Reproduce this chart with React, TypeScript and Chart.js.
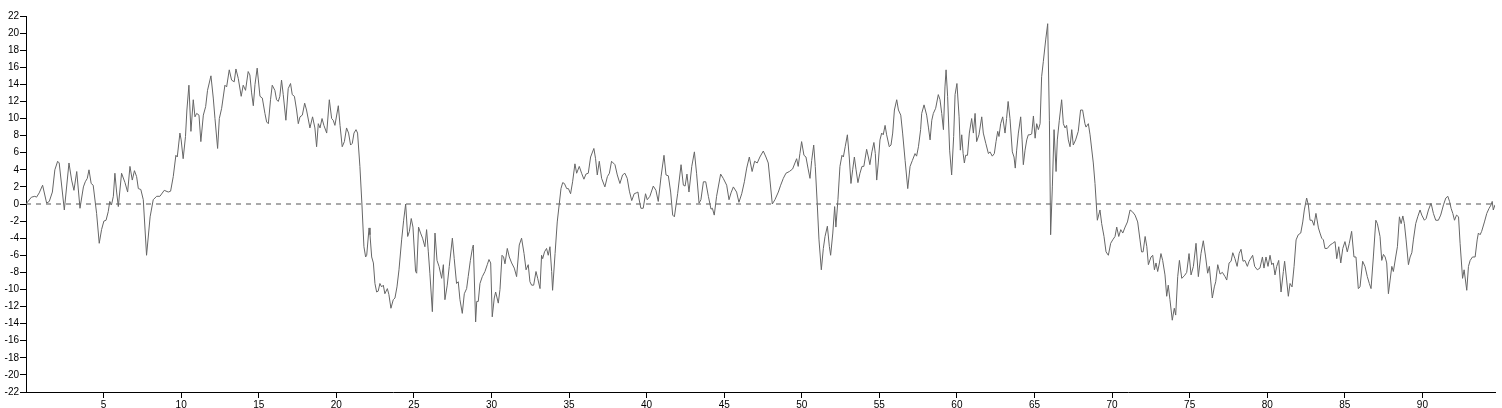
import React, { useEffect, useRef } from "react";
import { Chart, registerables } from "chart.js";

Chart.register(...registerables);

const times = [
  0, 0.35, 0.57, 0.68, 0.85, 1.07, 1.33, 1.5, 1.7, 1.86,
  2.04, 2.14, 2.47, 2.77, 2.94, 3.09, 3.27, 3.48, 3.7, 3.82,
  3.95, 4.06, 4.2, 4.33, 4.55, 4.72, 4.87, 5.02, 5.16, 5.3,
  5.4, 5.51, 5.63, 5.73, 5.84, 5.95, 6.16, 6.38, 6.55, 6.7,
  6.85, 6.99, 7.13, 7.24, 7.4, 7.56, 7.77, 8.0, 8.2, 8.42,
  8.63, 8.91, 9.17, 9.32, 9.49, 9.66, 9.75, 9.92, 10.0, 10.13,
  10.28, 10.37, 10.5, 10.63, 10.78, 10.89, 11.0, 11.15, 11.27, 11.43,
  11.58, 11.7, 11.92, 12.07, 12.18, 12.35, 12.46, 12.61, 12.82, 12.93,
  13.1, 13.25, 13.42, 13.53, 13.68, 13.87, 14.0, 14.15, 14.32, 14.43,
  14.54, 14.65, 14.76, 14.9, 15.08, 15.23, 15.4, 15.51, 15.62, 15.76,
  15.87, 16.04, 16.15, 16.26, 16.36, 16.47, 16.58, 16.75, 16.9, 17.05,
  17.16, 17.3, 17.44, 17.55, 17.66, 17.81, 17.96, 18.08, 18.3, 18.47,
  18.62, 18.73, 18.84, 18.95, 19.08, 19.2, 19.38, 19.55, 19.7, 19.8,
  19.91, 20.13, 20.24, 20.38, 20.52, 20.66, 20.79, 20.92, 21.03, 21.14,
  21.27, 21.37, 21.52, 21.65, 21.78, 21.89, 21.96, 22.11, 22.17, 22.28,
  22.39, 22.49, 22.6, 22.7, 22.81, 22.92, 23.03, 23.13, 23.29, 23.39,
  23.52, 23.67, 23.78, 23.91, 24.04, 24.21, 24.34, 24.47, 24.6, 24.71,
  24.83, 24.94, 25.11, 25.18, 25.3, 25.43, 25.56, 25.71, 25.82, 25.93,
  26.03, 26.19, 26.36, 26.49, 26.62, 26.79, 26.9, 27.0, 27.15, 27.28,
  27.48, 27.6, 27.75, 27.86, 27.97, 28.12, 28.25, 28.4, 28.5, 28.64,
  28.77, 28.83, 28.98, 29.05, 29.15, 29.26, 29.41, 29.58, 29.73, 29.84,
  29.95, 30.05, 30.18, 30.27, 30.44, 30.55, 30.68, 30.78, 30.87, 31.02,
  31.15, 31.3, 31.47, 31.62, 31.79, 31.94, 32.1, 32.23, 32.37, 32.48,
  32.59, 32.72, 32.87, 32.98, 33.13, 33.23, 33.3, 33.42, 33.55, 33.66,
  33.77, 33.88, 33.94, 34.1, 34.24, 34.37, 34.48, 34.59, 34.7, 34.85,
  34.96, 35.1, 35.23, 35.38, 35.49, 35.66, 35.81, 35.96, 36.09, 36.24,
  36.39, 36.6, 36.71, 36.82, 36.95, 37.1, 37.31, 37.47, 37.6, 37.74,
  37.96, 38.11, 38.28, 38.45, 38.6, 38.75, 38.89, 39.04, 39.2, 39.33,
  39.44, 39.5, 39.63, 39.78, 39.93, 40.04, 40.21, 40.43, 40.6, 40.75,
  40.93, 41.12, 41.25, 41.4, 41.55, 41.68, 41.79, 42.0, 42.22, 42.37,
  42.48, 42.6, 42.73, 42.91, 43.08, 43.22, 43.38, 43.5, 43.66, 43.81,
  43.98, 44.15, 44.24, 44.36, 44.51, 44.77, 44.94, 45.16, 45.31, 45.44,
  45.59, 45.8, 45.95, 46.13, 46.3, 46.45, 46.62, 46.8, 46.96, 47.13,
  47.3, 47.52, 47.69, 47.84, 47.95, 48.1, 48.27, 48.49, 48.64, 48.81,
  48.98, 49.2, 49.41, 49.56, 49.67, 49.77, 49.88, 49.99, 50.14, 50.27,
  50.4, 50.53, 50.64, 50.77, 50.87, 51.0, 51.11, 51.26, 51.39, 51.5,
  51.65, 51.78, 51.86, 52.0, 52.12, 52.2, 52.33, 52.46, 52.59, 52.68,
  52.8, 52.94, 53.06, 53.17, 53.28, 53.39, 53.5, 53.62, 53.75, 53.88,
  54.0, 54.18, 54.29, 54.39, 54.52, 54.65, 54.74, 54.83, 54.93, 55.04,
  55.15, 55.25, 55.37, 55.47, 55.64, 55.75, 55.86, 55.97, 56.12, 56.23,
  56.38, 56.5, 56.66, 56.83, 56.98, 57.13, 57.3, 57.4, 57.52, 57.66,
  57.73, 57.88, 58.05, 58.16, 58.27, 58.38, 58.48, 58.63, 58.8, 58.91,
  59.02, 59.13, 59.23, 59.3, 59.4, 59.53, 59.66, 59.79, 59.88, 60.0,
  60.14, 60.22, 60.31, 60.4, 60.48, 60.56, 60.68, 60.8, 60.95, 61.06,
  61.17, 61.27, 61.42, 61.6, 61.7, 61.86, 62.03, 62.13, 62.28, 62.41,
  62.52, 62.63, 62.71, 62.82, 62.95, 63.1, 63.2, 63.3, 63.42, 63.57,
  63.68, 63.76, 63.85, 63.96, 64.11, 64.2, 64.28, 64.39, 64.5, 64.6,
  64.71, 64.82, 64.93, 65.04, 65.14, 65.25, 65.36, 65.46, 65.57, 65.72,
  65.85, 65.96, 66.04, 66.15, 66.26, 66.39, 66.47, 66.6, 66.75, 66.86,
  66.97, 67.07, 67.18, 67.29, 67.4, 67.5, 67.65, 67.82, 67.97, 68.1,
  68.25, 68.32, 68.47, 68.58, 68.79, 68.9, 69.05, 69.22, 69.33, 69.48,
  69.61, 69.76, 69.91, 70.04, 70.19, 70.3, 70.43, 70.56, 70.69, 70.84,
  70.99, 71.16, 71.31, 71.48, 71.65, 71.8, 71.9, 72.0, 72.13, 72.24,
  72.34, 72.51, 72.62, 72.73, 72.83, 72.94, 73.05, 73.15, 73.26, 73.41,
  73.52, 73.62, 73.73, 73.88, 74.01, 74.1, 74.23, 74.34, 74.49, 74.66,
  74.81, 74.96, 75.09, 75.24, 75.41, 75.56, 75.73, 75.88, 76.03, 76.16,
  76.27, 76.46, 76.59, 76.68, 76.81, 76.96, 77.11, 77.28, 77.39, 77.54,
  77.67, 77.78, 77.92, 78.06, 78.19, 78.31, 78.44, 78.56, 78.72, 78.83,
  79.06, 79.19, 79.36, 79.53, 79.69, 79.79, 79.92, 80.05, 80.18, 80.29,
  80.39, 80.5, 80.61, 80.74, 80.89, 81.04, 81.12, 81.25, 81.36, 81.47,
  81.6, 81.73, 81.86, 82.0, 82.16, 82.29, 82.39, 82.54, 82.65, 82.76,
  82.89, 83.01, 83.14, 83.3, 83.4, 83.51, 83.62, 83.72, 83.87, 84.05,
  84.22, 84.37, 84.48, 84.61, 84.74, 84.87, 85.01, 85.16, 85.29, 85.44,
  85.59, 85.72, 85.87, 85.98, 86.15, 86.3, 86.45, 86.58, 86.69, 86.84,
  87.0, 87.1, 87.27, 87.38, 87.49, 87.6, 87.7, 87.81, 87.92, 88.03,
  88.13, 88.28, 88.39, 88.52, 88.63, 88.74, 88.84, 88.95, 89.1, 89.21,
  89.32, 89.42, 89.57, 89.7, 89.85, 89.96, 90.13, 90.24, 90.39, 90.56,
  90.71, 90.86, 91.03, 91.18, 91.36, 91.51, 91.64, 91.75, 91.85, 91.96,
  92.07, 92.2, 92.33, 92.43, 92.59, 92.69, 92.86, 92.97, 93.08, 93.23,
  93.4, 93.53, 93.61, 93.72, 93.82, 94.0, 94.15, 94.3, 94.43, 94.5,
  94.57, 94.68,
];

const values = [
  0, 0.8, 0.9, 0.8, 1.3, 2.2, 0.1, 0.3, 1.4, 4,
  5, 4.8, -0.7, 4.8, 2.8, 1.6, 3.8, -0.5, 2, 2.6,
  3, 4, 2.4, 2.2, -1.1, -4.6, -3, -2, -1.9, -0.9,
  0.3, -0.1, 0.9, 3.6, 1.4, -0.3, 3.6, 2.5, 1.4, 4.4,
  2.8, 3.9, 3.2, 1.8, 1.7, 0.5, -6, -1.5, 0.5, 0.9,
  0.9, 1.6, 1.4, 1.5, 3.2, 5.7, 5.5, 8.3, 7.5, 5.3,
  7.9, 11, 13.9, 8.5, 12.2, 10.2, 10.6, 10.4, 7.3, 10.4,
  11.4, 13.3, 15, 12.4, 10, 6.5, 10, 11.2, 13.9, 13.7,
  15.7, 14.5, 14.3, 15.8, 14.7, 12.6, 13.9, 13.3, 15.5, 15.1,
  13, 11.5, 14, 15.9, 12.6, 12.4, 10.6, 9.6, 9.4, 12.2,
  13.9, 13.3, 12.2, 12, 12.6, 14.5, 12.8, 9.8, 13.5, 14.1,
  12.8, 12.6, 11, 9.4, 10.2, 10.4, 11.8, 11, 8.9, 10.2,
  8.9, 6.7, 9.4, 8.9, 10, 9.2, 8.3, 12.2, 10, 9.8,
  9.2, 11.5, 9.2, 6.7, 7.3, 8.9, 8.3, 6.9, 7.1, 8.3,
  8.7, 8.3, 4.4, 0, -5, -6.2, -6, -2.8, -3.6, -6.2,
  -6.9, -9.3, -10.3, -10.2, -9.3, -9.7, -9.5, -10.5, -9.9, -10.6,
  -12.2, -11.2, -11, -9.7, -7.7, -4.2, -1.9, 0, -3.8, -3.2,
  -1.7, -2.7, -7.9, -8.1, -2.7, -3.4, -4, -5, -3, -5.6,
  -8.1, -12.6, -3.4, -6.6, -7.3, -8.7, -7.1, -11.2, -9.5, -7.3,
  -4, -6.4, -9.3, -9.1, -11.2, -12.8, -10.5, -9.9, -8.5, -6.6,
  -5.2, -4.8, -13.8, -11.4, -11.4, -9.3, -8.5, -7.9, -7.1, -6.5,
  -6.9, -13.2, -11, -10.3, -11.6, -10, -6, -6.2, -7, -5.2,
  -6.2, -6.9, -7.5, -8.5, -4.8, -4, -5.8, -7.7, -7.1, -9.1,
  -9.5, -9.5, -7.9, -8.7, -9.9, -6, -6.4, -5.6, -5.2, -6,
  -5, -7.9, -10.1, -5.8, -2.1, 0, 1.8, 2.5, 2.4, 1.8,
  1.8, 1.2, 2.6, 4.7, 3.6, 4.4, 3.6, 2.9, 3.5, 3.6,
  5.5, 6.5, 5.3, 3.4, 5, 3, 2, 3.2, 3.6, 5,
  4.6, 3.4, 2.4, 3.4, 3.6, 3, 1.5, 0.4, 1.2, 1.3,
  1.4, 0.7, -0.5, -0.5, 1.2, 0.5, 0.9, 2.1, 1.6, 0.3,
  3.2, 5.7, 3.4, 3.3, 1.4, -1.3, -1.5, 1.2, 4.6, 2.2,
  2.1, 3.5, 1.4, 4.4, 6.1, 3.6, 0.1, 0.5, 2.6, 2.6,
  0.9, -0.6, -0.5, -1.3, 0.9, 3.5, 3, 2.2, 0.5, 1.3,
  2, 1.4, 0.2, 1.2, 2.6, 4.2, 5.5, 3.8, 5, 4.8,
  5.5, 6.2, 5.5, 4.8, 2.8, 0, 0.5, 1.4, 2.2, 3,
  3.6, 3.8, 4.1, 4.8, 5.3, 4.4, 5.9, 7.3, 5.7, 5.5,
  4.2, 3, 5.1, 6.9, 4.4, -0.1, -4.2, -7.7, -5.2, -3.8,
  -2.6, -5, -6, -3.4, -0.3, -2.7, 0.5, 4.4, 5.7, 5.5,
  6.7, 8.1, 5.5, 2.4, 4, 5.5, 4, 2.5, 3.6, 4.4,
  4.4, 6.4, 5.5, 4.6, 6.1, 7.2, 5.9, 2.8, 4.8, 7.5,
  8.3, 8.1, 9.2, 8.1, 6.7, 6.9, 8.3, 11, 12.2, 11,
  10.4, 8.3, 5.1, 1.8, 4.4, 5.1, 5.9, 5.6, 6.7, 8.7,
  10.6, 11.6, 10.4, 9, 7.5, 9.8, 10.6, 11.2, 12.8, 12.2,
  10.6, 8.7, 13.7, 15.7, 12.6, 6.3, 3.4, 7.9, 12.8, 14.1,
  10.2, 6.3, 8.1, 5.9, 4.8, 5.7, 5.7, 8.3, 10, 8.3,
  10.6, 7.3, 8.1, 10.2, 8.3, 7.1, 5.9, 6.1, 5.6, 5.9,
  7.3, 8.5, 7.9, 9.4, 10.2, 8.3, 10, 12, 10, 6.1,
  5.5, 4.2, 6.3, 8.3, 10.2, 7.5, 4.6, 6.3, 7.5, 8.1,
  8.1, 8.2, 10.3, 7.7, 9.4, 8.7, 9.4, 14.9, 16.7, 19.2,
  21.1, 9.8, -3.6, 2, 8.7, 3.8, 7.5, 9.8, 12.2, 9.4,
  8.9, 9.2, 7.5, 6.7, 8.7, 6.9, 7.5, 8.5, 11, 11,
  9.4, 9, 9.4, 8.1, 4.8, 2.4, -1.9, -0.7, -2.3, -3.8,
  -5.6, -6, -4.6, -4.2, -3.8, -2.7, -3.8, -3, -3.4, -2.7,
  -2.1, -0.7, -0.9, -1.3, -2.1, -4.2, -5.6, -5.6, -3.8, -5,
  -7.1, -6.2, -6, -7.7, -6.9, -7.9, -6.9, -5.8, -6.6, -8.3,
  -10.8, -9.5, -11.2, -13.6, -12.2, -13, -8.5, -6.6, -8.7, -8.4,
  -8, -5.8, -8.3, -7.3, -4.6, -8.5, -5.8, -4.3, -6.2, -8.1,
  -7.3, -11, -9.7, -9.1, -7.1, -8.2, -8, -8.5, -8.9, -6.9,
  -6.7, -5.7, -6.4, -7.3, -5.8, -5.3, -6.7, -6.6, -7.3, -6.7,
  -6, -7.3, -7.7, -7.5, -6.2, -7.5, -6.2, -7.3, -6, -7.1,
  -6.9, -8.3, -7.3, -6.6, -10.3, -7.9, -6.7, -8.9, -10.8, -9.3,
  -9.7, -7.3, -4.2, -3.6, -3.4, -2.1, -0.7, 0.7, -0.1, -1.9,
  -1.9, -2.5, -1.1, -2.8, -3.4, -4, -4.2, -5.2, -5.2, -4.8,
  -4.6, -4.4, -6.4, -5, -6.9, -5.2, -4.4, -5.6, -4.6, -3.2,
  -6.2, -6.2, -9.9, -9.7, -6.7, -7.3, -8.5, -9.3, -9.9, -6.2,
  -1.9, -2.3, -3.8, -6.6, -5.9, -6.2, -6.9, -10.5, -8.9, -7.3,
  -7.9, -6.2, -5, -1.5, -2.3, -1.4, -2.3, -4.2, -7.1, -6.2,
  -5.7, -4.2, -2.3, -1.5, -0.7, -1.3, -1.9, -1.7, -0.7, 0.1,
  -1.1, -1.9, -1.9, -1.3, -0.1, 0.7, 0.9, 0.3, -0.5, -1.1,
  -1.9, -1.3, -1.5, -4.6, -8.7, -7.7, -10.1, -7.3, -6.6, -6.2,
  -6.2, -4.2, -3.4, -3.6, -3.2, -2.1, -1.1, -0.5, -0.1, 0.3,
  -0.7, -0.1,
];

const yMin = -22;
const yMax = 22;
const yStep = 2;
const xStep = 5;
const baselineValue = 0;

const FONT = { family: "'Liberation Sans', Arial, sans-serif", size: 10 };

export default function App() {
  const ref = useRef<HTMLCanvasElement | null>(null);

  useEffect(() => {
    if (!ref.current) return;
    const n = Math.min(times.length, values.length);
    const points: { x: number; y: number }[] = [];
    for (let i = 0; i < n; i++) points.push({ x: times[i], y: values[i] });
    const xMax = times[n - 1];

    const chart = new Chart(ref.current, {
      type: "line",
      data: {
        datasets: [
          {
            data: points,
            borderColor: "#666666",
            borderWidth: 1,
            pointRadius: 0,
            tension: 0,
            fill: false,
          },
          {
            data: [
              { x: 0, y: baselineValue },
              { x: xMax, y: baselineValue },
            ],
            borderColor: "#555555",
            borderWidth: 1,
            borderDash: [5, 5],
            pointRadius: 0,
            fill: false,
          },
        ],
      },
      options: {
        animation: false,
        responsive: false,
        events: [],
        layout: { padding: { left: 0, top: 16, right: 7, bottom: 0 } },
        plugins: { legend: { display: false }, tooltip: { enabled: false } },
        scales: {
          x: {
            type: "linear",
            min: 0,
            max: xMax,
            ticks: {
              stepSize: xStep,
              autoSkip: false,
              maxRotation: 0,
              color: "#000",
              font: FONT,
              padding: 1,
            },
            grid: { drawOnChartArea: false, drawTicks: true, tickLength: 6, color: "#000" },
            border: { display: true, color: "#000" },
            afterBuildTicks: (s: any) => {
              s.ticks = s.ticks.filter(
                (t: any) => t.value > 0 && Math.abs(t.value / xStep - Math.round(t.value / xStep)) < 1e-6
              );
            },
            afterFit: (s: any) => {
              s.height = 16;
            },
          },
          y: {
            type: "linear",
            min: yMin,
            max: yMax,
            ticks: {
              stepSize: yStep,
              autoSkip: false,
              color: "#000",
              font: FONT,
              padding: 1,
            },
            grid: { drawOnChartArea: false, drawTicks: true, tickLength: 6, color: "#000" },
            border: { display: true, color: "#000" },
            afterFit: (s: any) => {
              s.width = 26;
            },
          },
        },
      },
    });
    return () => chart.destroy();
  }, []);

  return (
    <div style={{ position: "fixed", left: 0, top: 0, width: 1502, height: 408, background: "#fff" }}>
      <canvas ref={ref} width={1502} height={408} style={{ display: "block", width: 1502, height: 408 }} />
    </div>
  );
}
